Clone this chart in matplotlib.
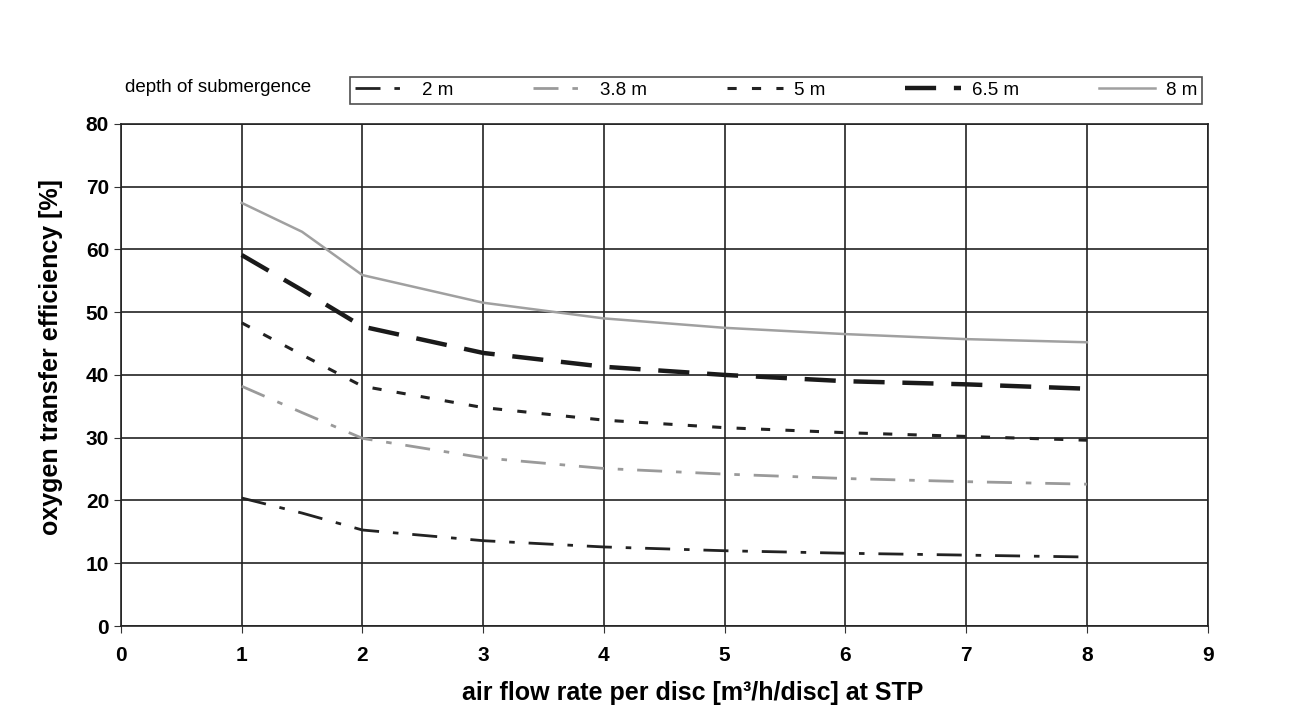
import matplotlib
matplotlib.use("Agg")
import matplotlib.pyplot as plt

plt.rcParams['font.family'] = ['Liberation Sans', 'DejaVu Sans']

flow = [1, 1.5, 2, 3, 4, 5, 6, 7, 8]
eff_2m = [20.4, 18.0, 15.3, 13.6, 12.6, 12.0, 11.6, 11.3, 11.0]
eff_38m = [38.2, 34.0, 29.9, 26.8, 25.1, 24.2, 23.5, 23.0, 22.6]
eff_5m = [48.3, 43.2, 38.2, 34.8, 32.8, 31.6, 30.8, 30.2, 29.6]
eff_65m = [59.1, 53.5, 47.7, 43.5, 41.3, 40.0, 39.0, 38.5, 37.8]
eff_8m = [67.4, 62.8, 55.9, 51.5, 49.0, 47.5, 46.5, 45.7, 45.2]
labels = ['2 m', '3.8 m', '5 m', '6.5 m', '8 m']

fig = plt.figure(figsize=(13, 7.28), dpi=100)
ax = fig.add_axes([0.093, 0.140, 0.836, 0.690])

ax.plot(flow, eff_2m, color='#222222', lw=2, dashes=(9, 5, 2, 5), label=labels[0])
ax.plot(flow, eff_38m, color='#9a9a9a', lw=2, dashes=(9, 5, 2, 5), label=labels[1])
ax.plot(flow, eff_5m, color='#222222', lw=2.2, dashes=(3, 5), label=labels[2])
ax.plot(flow, eff_65m, color='#1a1a1a', lw=3.2, dashes=(7, 4), label=labels[3])
ax.plot(flow, eff_8m, color='#a0a0a0', lw=1.8, label=labels[4])

ax.set_xlim(0, 9)
ax.set_ylim(0, 80)
ax.set_xticks(range(0, 10))
ax.set_yticks(range(0, 81, 10))
ax.grid(True, color='#222222', lw=1.2)
ax.tick_params(axis='both', labelsize=15, length=5, color='#333333')
ax.tick_params(axis='x', pad=9)
for lab in ax.get_xticklabels() + ax.get_yticklabels():
    lab.set_fontweight('bold')
for s in ax.spines.values():
    s.set_color('#222222')
    s.set_linewidth(1.2)

ax.set_xlabel('air flow rate per disc [m³/h/disc] at STP', fontsize=18, fontweight='bold', labelpad=12)
ax.set_ylabel('oxygen transfer efficiency [%]', fontsize=18, fontweight='bold', labelpad=16)
ax.xaxis.label.set_x(0.526)
ax.yaxis.label.set_y(0.536)

leg = fig.legend(loc='center', bbox_to_anchor=(0.262, 0.854, 0.670, 0.044), ncol=5,
                 mode='expand', fontsize=13.5, frameon=True, fancybox=False,
                 handlelength=3, handletextpad=0.6, borderpad=0.25, edgecolor='#222222')
leg.get_frame().set_linewidth(1.2)
fig.text(0.096, 0.880, 'depth of submergence', fontsize=13.5, va='center')

fig.savefig('out.png', dpi=100, facecolor='white')
